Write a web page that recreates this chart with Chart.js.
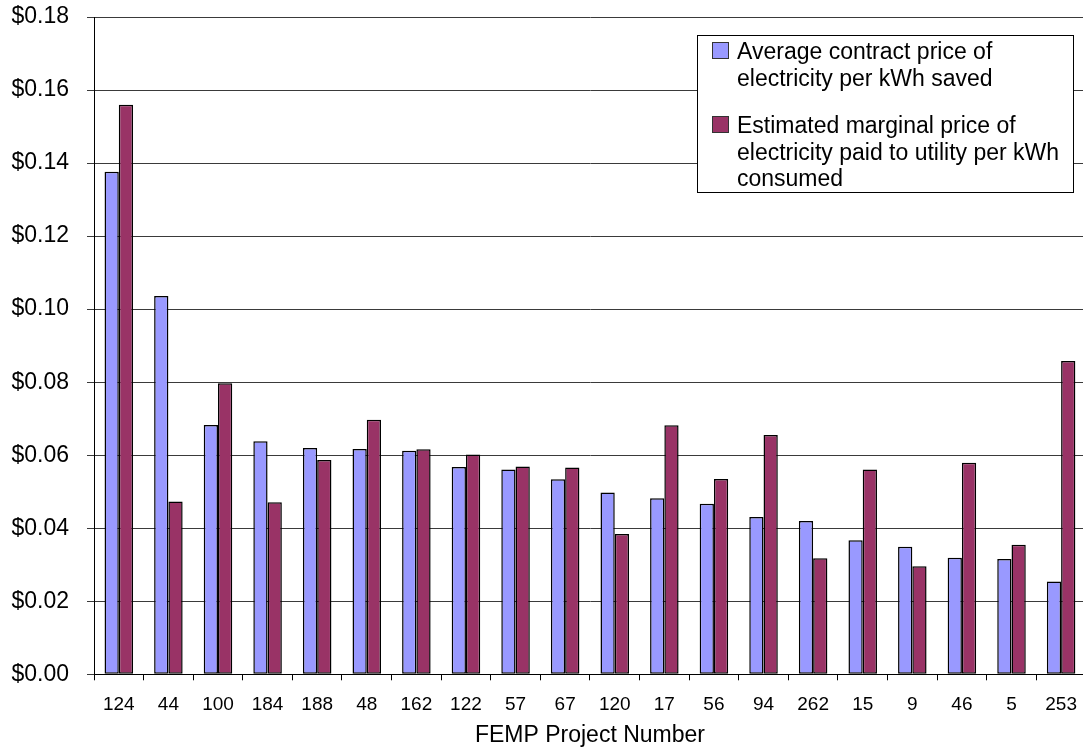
<!DOCTYPE html>
<html>
<head>
<meta charset="utf-8">
<script src="https://cdn.jsdelivr.net/npm/chart.js@4"></script>
<style>
  html, body { margin: 0; padding: 0; overflow: hidden; background: #fff; }
  #wrap { position: absolute; left: 0; top: 0; width: 1090px; height: 750px; }
</style>
</head>
<body>
<div id="wrap"><canvas id="c"></canvas></div>
<script>
// FEMP project numbers, ordered by average contract price
const projects = ['124', '44', '100', '184', '188', '48', '162', '122', '57', '67',
                  '120', '17', '56', '94', '262', '15', '9', '46', '5', '253'];

// Average contract price of electricity per kWh saved ($/kWh)
const contractPrice = [0.1376, 0.1036, 0.0683, 0.0638, 0.0620, 0.0617, 0.0612, 0.0568, 0.0561, 0.0534,
                       0.0498, 0.0482, 0.0467, 0.0431, 0.0420, 0.0367, 0.0349, 0.0319, 0.0316, 0.0254];

// Estimated marginal price of electricity paid to utility per kWh consumed ($/kWh)
const marginalPrice = [0.1560, 0.0473, 0.0797, 0.0471, 0.0587, 0.0697, 0.0616, 0.0602, 0.0569, 0.0566,
                       0.0384, 0.0682, 0.0535, 0.0655, 0.0318, 0.0561, 0.0296, 0.0579, 0.0355, 0.0858];

// Value axis range and step
const yMin = 0;
const yMax = 0.18;
const yStep = 0.02;

// Legend entries, already broken into lines
const contractLegendLines = ['Average contract price of', 'electricity per kWh saved'];
const marginalLegendLines = ['Estimated marginal price of', 'electricity paid to utility per kWh', 'consumed'];

const axisTitle = 'FEMP Project Number';
const FONT = '"Liberation Sans", Arial, Helvetica, sans-serif';

// Boxed legend in the upper right corner of the plot
const boxLegend = {
  id: 'boxLegend',
  afterDraw(chart) {
    const ctx = chart.ctx;
    const ds = chart.data.datasets;
    const left = 697, top = 35, right = 1074, bottom = 193;
    ctx.save();
    ctx.fillStyle = '#fff';
    ctx.fillRect(left, top, right - left, bottom - top);
    ctx.strokeStyle = '#000';
    ctx.lineWidth = 1;
    ctx.strokeRect(left + 0.5, top + 0.5, right - left - 1, bottom - top - 1);

    ctx.font = '23px ' + FONT;
    ctx.textBaseline = 'alphabetic';
    ctx.textAlign = 'left';
    const lineGap = 26.5;
    const entries = [
      { lines: ds[0].legendLines, color: ds[0].backgroundColor, base: 59 },
      { lines: ds[1].legendLines, color: ds[1].backgroundColor, base: 133 }
    ];
    entries.forEach(e => {
      ctx.fillStyle = e.color;
      ctx.fillRect(712, e.base - 17, 17, 17);
      ctx.strokeStyle = '#333';
      ctx.strokeRect(712.5, e.base - 16.5, 16, 16);
      ctx.fillStyle = '#000';
      e.lines.forEach((t, i) => ctx.fillText(t, 737, e.base + i * lineGap));
    });
    ctx.restore();
  }
};

new Chart(document.getElementById('c'), {
  type: 'bar',
  data: {
    labels: projects,
    datasets: [
      {
        label: contractLegendLines.join(' '),
        legendLines: contractLegendLines,
        data: contractPrice,
        backgroundColor: '#9999FF',
        borderColor: '#000',
        borderWidth: 1.5,
        borderSkipped: false
      },
      {
        label: marginalLegendLines.join(' '),
        legendLines: marginalLegendLines,
        data: marginalPrice,
        backgroundColor: '#993366',
        borderColor: '#000',
        borderWidth: 1.5,
        borderSkipped: false
      }
    ]
  },
  options: {
    responsive: true,
    maintainAspectRatio: false,
    devicePixelRatio: 1,
    animation: false,
    layout: { padding: { top: 17, right: 2, left: 0, bottom: 0 } },
    datasets: { bar: { categoryPercentage: 0.575, barPercentage: 1.0 } },
    plugins: {
      legend: { display: false },
      tooltip: { enabled: false }
    },
    scales: {
      x: {
        offset: true,
        grid: {
          display: true,
          offset: true,
          drawOnChartArea: false,
          drawTicks: true,
          tickLength: 6,
          color: '#000',
          tickColor: '#000'
        },
        border: { display: true, color: '#000', width: 1 },
        ticks: {
          color: '#000',
          font: { family: FONT, size: 19 },
          padding: 13,
          maxRotation: 0,
          autoSkip: false
        },
        title: {
          display: true,
          text: axisTitle,
          color: '#000',
          font: { family: FONT, size: 23 },
          padding: { top: 0, bottom: 1 }
        },
        afterFit(scale) { scale.height = 75.7; }
      },
      y: {
        min: yMin,
        max: yMax,
        grid: {
          color: '#3a3a3a',
          tickColor: '#3a3a3a',
          tickLength: 7,
          lineWidth: 1
        },
        border: { display: true, color: '#000', width: 1 },
        ticks: {
          stepSize: yStep,
          color: '#000',
          padding: 18,
          font: { family: FONT, size: 23 },
          callback: v => '$' + Number(v).toFixed(2)
        },
        afterFit(scale) {
          scale.width = 94;
          scale.paddingTop = 0;
          scale.paddingBottom = 0;
        }
      }
    }
  },
  plugins: [boxLegend]
});
</script>
</body>
</html>
